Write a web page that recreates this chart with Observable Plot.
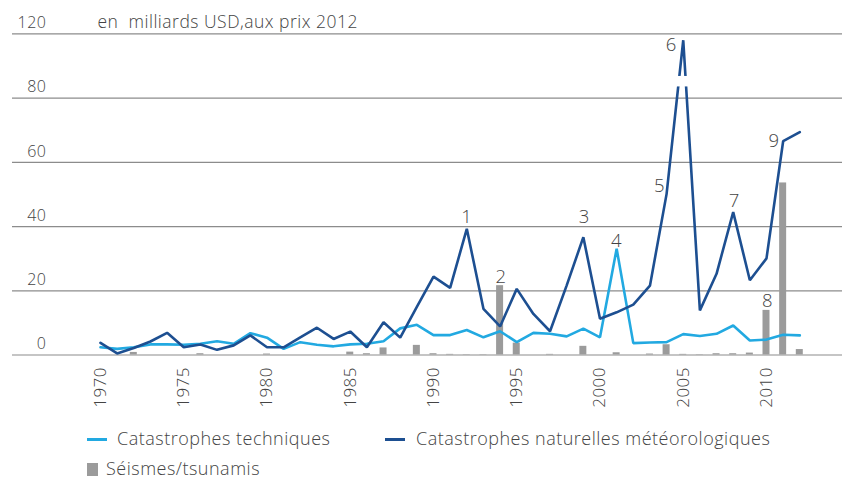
<!DOCTYPE html>
<html>
<head>
<meta charset="utf-8">
<script src="https://cdn.jsdelivr.net/npm/d3@7"></script>
<script src="https://cdn.jsdelivr.net/npm/@observablehq/plot@0.6"></script>
<style>
  html, body { margin: 0; padding: 0; background: #fff; }
  body { width: 842px; height: 481px; overflow: hidden; font-family: "Open Sans", Roboto, sans-serif; font-weight: 300; color: #444; }
  #chart svg { display: block; }
  #chart svg text { letter-spacing: 0.5px; }
  .legend { position: relative; height: 61px; font-size: 18px; letter-spacing: 0.5px; }
  .item { position: absolute; white-space: nowrap; line-height: 20px; }
  .sw-line { position: absolute; height: 3px; width: 20px; }
  .sw-box { position: absolute; width: 11px; height: 13px; background: #9b9b9b; }
</style>
</head>
<body>
<div id="chart"></div>
<div class="legend">
  <div class="sw-line" style="left:87px; top:18px; background:#22a9e1"></div>
  <div class="item" style="left:117px; top:8px;">Catastrophes techniques</div>
  <div class="sw-line" style="left:385px; top:18px; background:#1d4f91"></div>
  <div class="item" style="left:416px; top:8px;">Catastrophes naturelles météorologiques</div>
  <div class="sw-box" style="left:87px; top:43px;"></div>
  <div class="item" style="left:106px; top:38px;">Séismes/tsunamis</div>
</div>
<script>
const years = d3.range(1970, 2013);
const natural = [3.8,0.5,2.2,4.2,6.9,2.4,3.3,1.6,3.0,6.1,2.4,2.4,5.5,8.5,5.0,7.3,2.4,10.2,5.4,15.0,24.4,20.9,39.3,14.4,8.9,20.6,12.8,7.4,21.7,36.7,11.3,13.3,15.7,21.6,50.2,116,13.9,25.3,44.5,23.3,30.1,66.6,69.4];
const technical = [2.4,1.9,2.4,3.3,3.3,3.2,3.5,4.3,3.5,6.8,5.4,1.9,4.0,3.2,2.7,3.3,3.5,4.3,8.3,9.4,6.2,6.2,7.8,5.5,7.4,4.0,6.9,6.6,5.8,8.2,5.5,33.1,3.7,3.9,4.0,6.5,5.9,6.6,9.2,4.5,4.8,6.3,6.1];
const quakes = [0,0,0.8,0,0,0,0.4,0,0,0,0.3,0,0,0,0,0.9,0.4,2.2,0,3.0,0.4,0.2,0.1,0.1,21.6,3.7,0,0.2,0,2.7,0,0.7,0,0.3,3.2,0.2,0.1,0.4,0.4,0.6,13.9,53.6,1.7];
const yTicks = [0,20,40,60,80,120];
const xTicks = [1970,1975,1980,1985,1990,1995,2000,2005,2010];
const title = "en  milliards USD,aux prix 2012";
// numbered events: label, year, series it sits on
const events = [
  {label:"1", year:1992, series:"natural"},
  {label:"2", year:1994, series:"quakes"},
  {label:"3", year:1999, series:"natural"},
  {label:"4", year:2001, series:"technical"},
  {label:"5", year:2004, series:"natural"},
  {label:"6", year:2005, series:"natural"},
  {label:"7", year:2008, series:"natural"},
  {label:"8", year:2010, series:"quakes"},
  {label:"9", year:2011, series:"natural"}
];
const eventOffsets = {"1":[0,-12],"2":[1,-9],"3":[1,-20],"4":[0,-8],"5":[-7,-8],"6":[-12,5],"7":[1,-11],"8":[1,-9],"9":[-9,0]};
// axis break on the 2005 peak
const axisBreak = [{year:2005, from:87, to:93.5}];

const seriesMap = {natural, technical, quakes};
const rows = years.map((y,i) => ({year:y, natural:natural[i], technical:technical[i], quakes:quakes[i]}));
const ev = events.map(e => ({...e, value: seriesMap[e.series][years.indexOf(e.year)], dx: eventOffsets[e.label][0], dy: eventOffsets[e.label][1]}));

const cLight = "#22a9e1", cDark = "#1d4f91", cGray = "#9b9b9b", cGrid = "#8c8c8c", cText = "#444";
const font = "'Open Sans', Roboto, sans-serif";

const marks = [
  Plot.ruleY(yTicks, {stroke: cGrid, strokeWidth: 1.2}),
  Plot.text(yTicks, {y: d => d, text: d => String(d), frameAnchor: "left", dx: 34, dy: -11, textAnchor: "end", fill: cText, fontSize: 16}),
  Plot.text([title], {y: () => 120, text: d => d, frameAnchor: "left", dx: 85, dy: -11, textAnchor: "start", fill: cText, fontSize: 17.5}),
  Plot.text(xTicks, {x: d => d, y: () => 0, text: d => String(d), rotate: -90, textAnchor: "end", lineAnchor: "middle", dy: 12, fill: cText, fontSize: 17}),
  Plot.rectY(rows, {x1: d => d.year - 0.21, x2: d => d.year + 0.21, y1: 0, y2: "quakes", fill: cGray}),
  Plot.line(rows, {x: "year", y: "technical", stroke: cLight, strokeWidth: 2.6, strokeLinejoin: "miter"}),
  Plot.line(rows, {x: "year", y: "natural", stroke: cDark, strokeWidth: 2.6, strokeLinejoin: "miter"}),
  Plot.rect(axisBreak, {x1: d => d.year - 0.5, x2: d => d.year + 0.5, y1: "from", y2: "to", fill: "white"}),
  ...ev.map(e => Plot.text([e], {x: "year", y: "value", text: "label", dx: e.dx, dy: e.dy, fill: cText, fontSize: 18.5, lineAnchor: "middle"}))
];

const chart = Plot.plot({
  width: 842,
  height: 420,
  marginLeft: 12,
  marginRight: 0,
  marginTop: 0,
  marginBottom: 0,
  x: {type: "linear", domain: [1970, 2012], range: [100, 799.3], axis: null},
  y: {type: "linear", domain: [0, 80, 120], range: [354.5, 97.7, 33.3], axis: null},
  style: {fontFamily: font, fontWeight: 300, background: "white", overflow: "visible"},
  marks
});
document.getElementById("chart").appendChild(chart);
</script>
</body>
</html>
